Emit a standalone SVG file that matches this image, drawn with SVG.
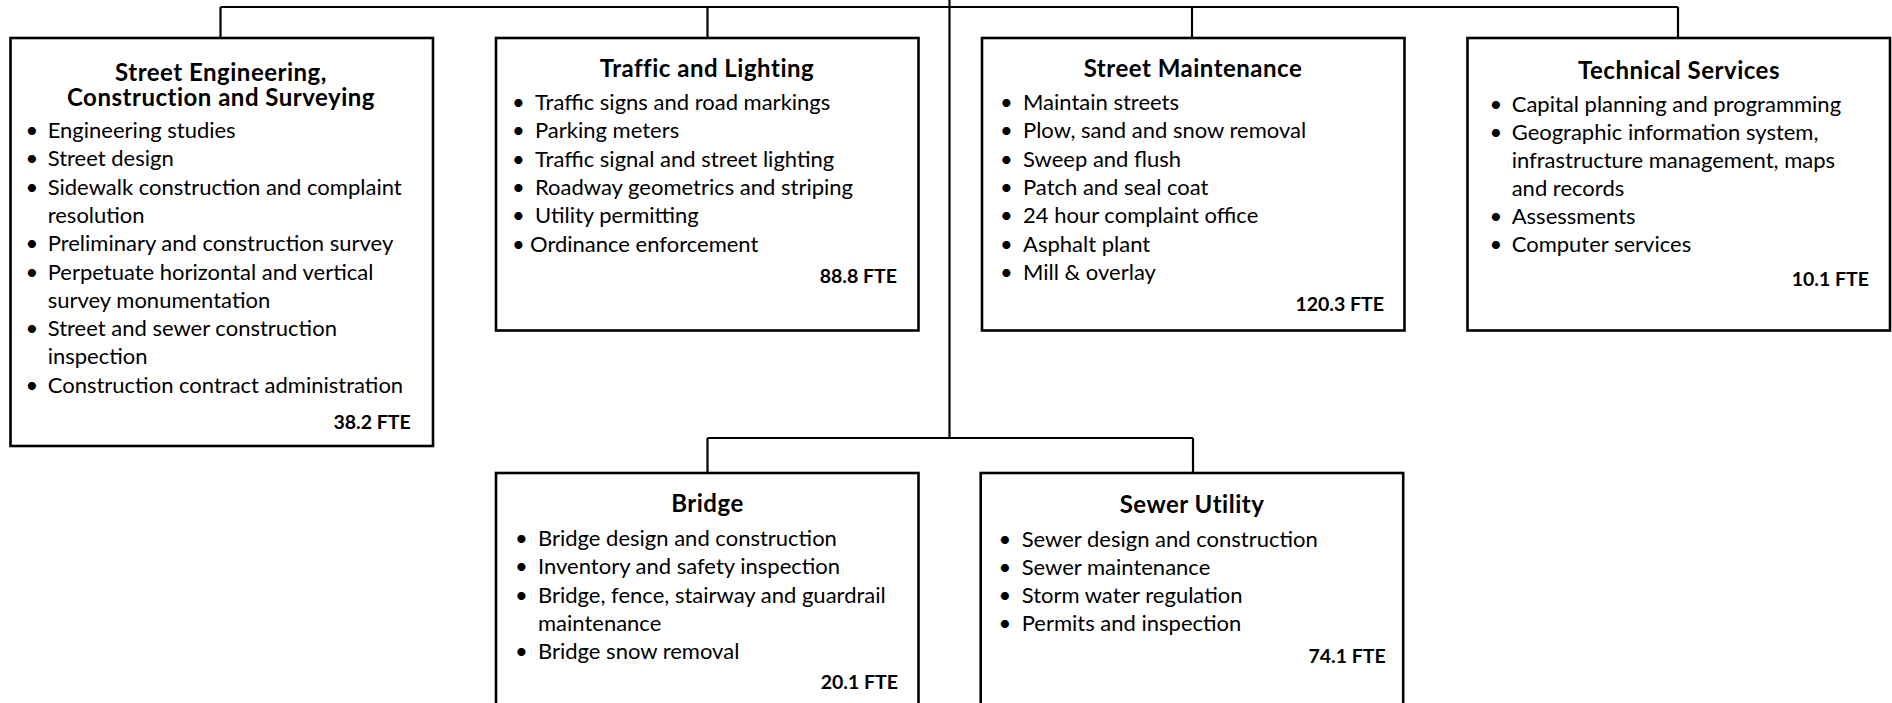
<svg xmlns="http://www.w3.org/2000/svg" width="1892" height="703" viewBox="0 0 1892 703">
<style>
.box{fill:#fff;stroke:#000;stroke-width:2.6}
.con{fill:none;stroke:#000;stroke-width:2.2}
.t{font-family:Lato,"Noto Sans",sans-serif;font-weight:bold;font-size:24px;letter-spacing:0.5px;fill:#000;text-anchor:middle}
.i{font-family:Lato,"Noto Sans",sans-serif;font-size:22px;fill:#000}
.b{font-family:Lato,"Noto Sans",sans-serif;font-size:22px;fill:#000;text-anchor:middle}
.f{font-family:Lato,"Noto Sans",sans-serif;font-weight:bold;font-size:19.5px;fill:#000;text-anchor:end}
</style>
<rect width="1892" height="703" fill="#fff"/>
<g id="connectors">
<path class="con" d="M220.5 7H1678M220.5 7V38M707.5 7V38M1192 7V38M1678 7V38M949.5 0V438M707.5 438H1193M707.5 438V473M1193 438V473"/>
</g>
<g id="street-engineering">
<rect class="box" x="10.5" y="38" width="422.5" height="408"/>
<text class="t"><tspan x="221" y="81">Street Engineering,</tspan><tspan x="221" y="106">Construction and Surveying</tspan></text>
<text class="b" x="32"><tspan x="32" y="138">•</tspan><tspan x="32" y="166.3">•</tspan><tspan x="32" y="194.6">•</tspan><tspan x="32" y="251.2">•</tspan><tspan x="32" y="279.5">•</tspan><tspan x="32" y="336.1">•</tspan><tspan x="32" y="392.7">•</tspan></text>
<text class="i"><tspan x="47.7" y="138">Engineering studies</tspan><tspan x="47.7" y="166.3">Street design</tspan><tspan x="47.7" y="194.6">Sidewalk construction and complaint</tspan><tspan x="47.7" y="222.9">resolution</tspan><tspan x="47.7" y="251.2">Preliminary and construction survey</tspan><tspan x="47.7" y="279.5">Perpetuate horizontal and vertical</tspan><tspan x="47.7" y="307.8">survey monumentation</tspan><tspan x="47.7" y="336.1">Street and sewer construction</tspan><tspan x="47.7" y="364.4">inspection</tspan><tspan x="47.7" y="392.7">Construction contract administration</tspan></text>
<text class="f" x="410.7" y="429">38.2 FTE</text>
</g>
<g id="traffic-lighting">
<rect class="box" x="496" y="38" width="422.5" height="292.5"/>
<text class="t" x="707" y="77">Traffic and Lighting</text>
<text class="b"><tspan x="518.5" y="110">•</tspan><tspan x="518.5" y="138.3">•</tspan><tspan x="518.5" y="166.6">•</tspan><tspan x="518.5" y="194.9">•</tspan><tspan x="518.5" y="223.2">•</tspan><tspan x="518.5" y="251.5">•</tspan></text>
<text class="i"><tspan x="535" y="110">Traffic signs and road markings</tspan><tspan x="535" y="138.3">Parking meters</tspan><tspan x="535" y="166.6">Traffic signal and street lighting</tspan><tspan x="535" y="194.9">Roadway geometrics and striping</tspan><tspan x="535" y="223.2">Utility permitting</tspan><tspan x="530" y="251.5">Ordinance enforcement</tspan></text>
<text class="f" x="897" y="283">88.8 FTE</text>
</g>
<g id="street-maintenance">
<rect class="box" x="982" y="38" width="422.5" height="292.5"/>
<text class="t" x="1193" y="77">Street Maintenance</text>
<text class="b"><tspan x="1006.5" y="110">•</tspan><tspan x="1006.5" y="138.3">•</tspan><tspan x="1006.5" y="166.6">•</tspan><tspan x="1006.5" y="194.9">•</tspan><tspan x="1006.5" y="223.2">•</tspan><tspan x="1006.5" y="251.5">•</tspan><tspan x="1006.5" y="279.8">•</tspan></text>
<text class="i"><tspan x="1023" y="110">Maintain streets</tspan><tspan x="1023" y="138.3">Plow, sand and snow removal</tspan><tspan x="1023" y="166.6">Sweep and flush</tspan><tspan x="1023" y="194.9">Patch and seal coat</tspan><tspan x="1023" y="223.2">24 hour complaint office</tspan><tspan x="1023" y="251.5">Asphalt plant</tspan><tspan x="1023" y="279.8">Mill &amp; overlay</tspan></text>
<text class="f" x="1384" y="311">120.3 FTE</text>
</g>
<g id="technical-services">
<rect class="box" x="1467.5" y="38" width="422.5" height="292.5"/>
<text class="t" x="1679" y="79">Technical Services</text>
<text class="b"><tspan x="1496" y="112">•</tspan><tspan x="1496" y="140">•</tspan><tspan x="1496" y="224">•</tspan><tspan x="1496" y="252">•</tspan></text>
<text class="i"><tspan x="1511.7" y="112">Capital planning and programming</tspan><tspan x="1511.7" y="140">Geographic information system,</tspan><tspan x="1511.7" y="168">infrastructure management, maps</tspan><tspan x="1511.7" y="196">and records</tspan><tspan x="1511.7" y="224">Assessments</tspan><tspan x="1511.7" y="252">Computer services</tspan></text>
<text class="f" x="1869" y="286">10.1 FTE</text>
</g>
<g id="bridge">
<rect class="box" x="496" y="473" width="422.5" height="260"/>
<text class="t" x="707.5" y="512">Bridge</text>
<text class="b"><tspan x="521.5" y="546">•</tspan><tspan x="521.5" y="574.3">•</tspan><tspan x="521.5" y="602.6">•</tspan><tspan x="521.5" y="659.2">•</tspan></text>
<text class="i"><tspan x="538" y="546">Bridge design and construction</tspan><tspan x="538" y="574.3">Inventory and safety inspection</tspan><tspan x="538" y="602.6">Bridge, fence, stairway and guardrail</tspan><tspan x="538" y="630.9">maintenance</tspan><tspan x="538" y="659.2">Bridge snow removal</tspan></text>
<text class="f" x="898" y="689">20.1 FTE</text>
</g>
<g id="sewer-utility">
<rect class="box" x="980.7" y="473" width="422.5" height="260"/>
<text class="t" x="1192" y="513">Sewer Utility</text>
<text class="b"><tspan x="1005" y="547">•</tspan><tspan x="1005" y="575">•</tspan><tspan x="1005" y="603">•</tspan><tspan x="1005" y="631">•</tspan></text>
<text class="i"><tspan x="1021.7" y="547">Sewer design and construction</tspan><tspan x="1021.7" y="575">Sewer maintenance</tspan><tspan x="1021.7" y="603">Storm water regulation</tspan><tspan x="1021.7" y="631">Permits and inspection</tspan></text>
<text class="f" x="1385.7" y="663">74.1 FTE</text>
</g>
</svg>
